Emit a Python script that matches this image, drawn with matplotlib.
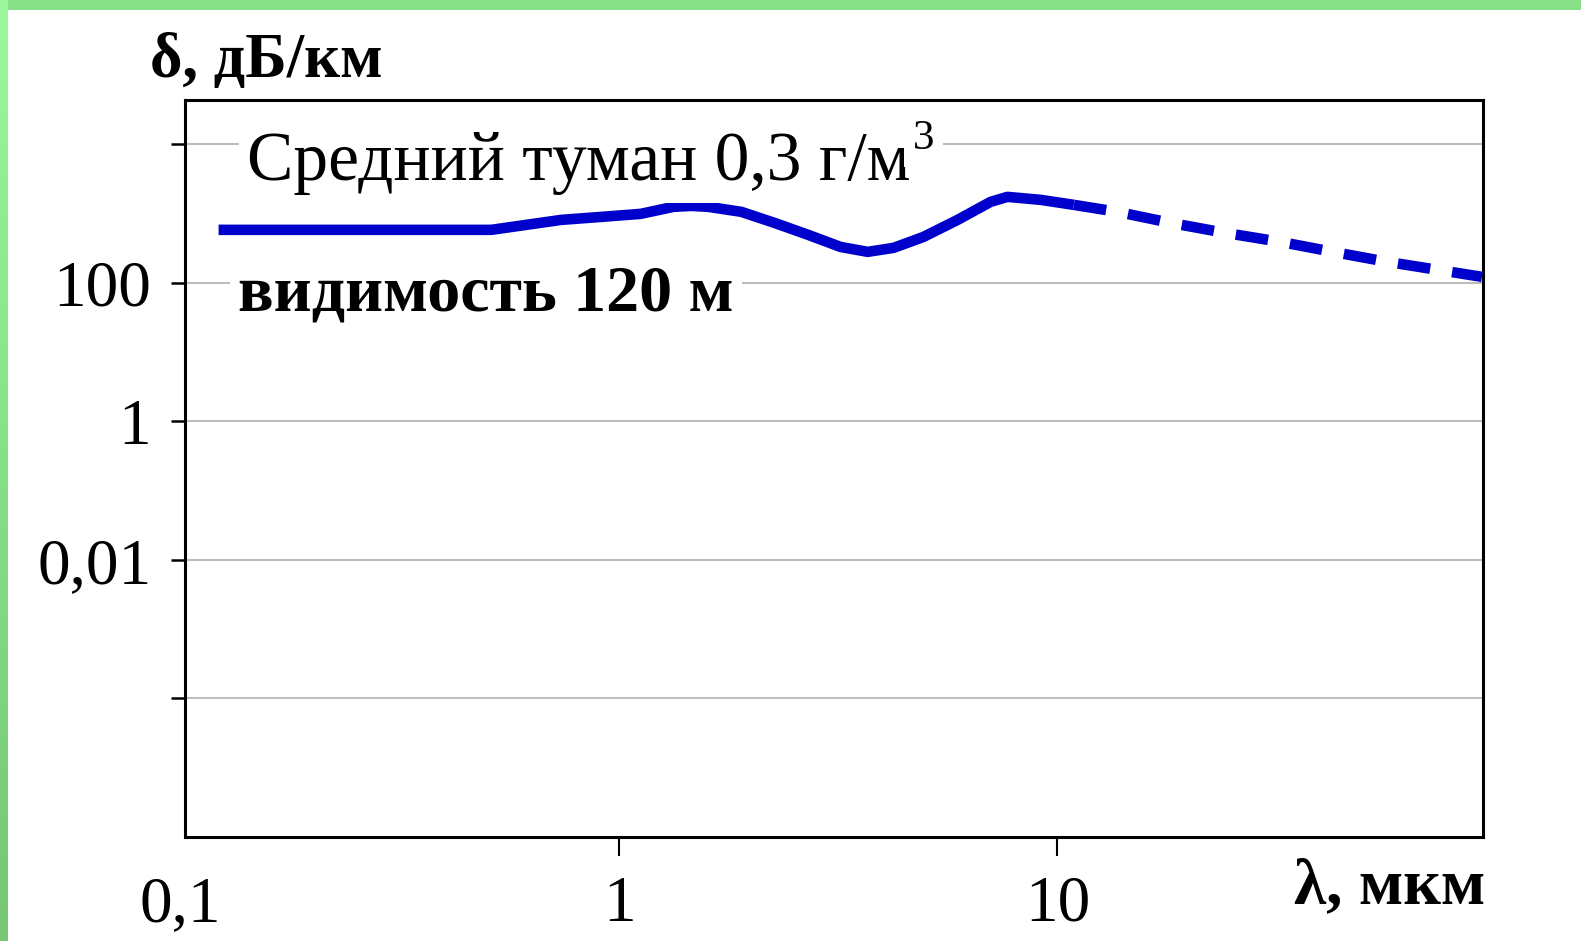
import matplotlib
matplotlib.use('Agg')
import matplotlib.pyplot as plt
import numpy as np
from matplotlib.colors import LinearSegmentedColormap

plt.rcParams['font.family'] = ['Liberation Serif', 'DejaVu Serif']

# ---- data ----
solid_lambda = [0.122, 0.511, 0.738, 0.910, 1.12, 1.33, 1.46, 1.60, 1.90, 2.26, 2.70,
                3.20, 3.69, 4.23, 4.95, 5.92, 7.04, 7.69, 9.15, 10.9]
solid_delta = [582, 582, 811, 895, 990, 1250, 1290, 1250, 1059, 735, 493,
               330, 280, 320, 461, 811, 1476, 1742, 1578, 1336]
dashed_lambda = [10.9, 13.7, 18.1, 24.1, 32.2, 42.5, 56.5, 93.0]
dashed_delta = [1336, 1059, 735, 527, 391, 280, 201, 122]

x_ticks = [0.1, 1, 10]
x_tick_labels = ['0,1', '1', '10']
y_ticks = [1e4, 1e2, 1, 1e-2, 1e-4]
y_tick_labels = ['', '100', '1', '0,01', '']

W, H = 1581, 941
fig = plt.figure(figsize=(W / 100, H / 100), dpi=100)
fig.patch.set_facecolor('white')

def fx(px):
    return px / W

def fy(py):
    return 1 - py / H

# green frame: top band and left gradient band
top_ax = fig.add_axes([0, fy(10), 1, 10 / H])
top_ax.set_axis_off()
top_ax.add_patch(plt.Rectangle((0, 0), 1, 1, color='#88e088', transform=top_ax.transAxes))
left_ax = fig.add_axes([0, 0, 8 / W, 1])
left_ax.set_axis_off()
cmap = LinearSegmentedColormap.from_list('g', ['#9cf89c', '#86e086', '#76c676'])
left_ax.imshow(np.linspace(0, 1, 256).reshape(-1, 1), aspect='auto', cmap=cmap,
               extent=[0, 1, 0, 1], origin='upper')
left_ax.set_xlim(0, 1)
left_ax.set_ylim(0, 1)

ax_h_px = 837 - 100
ax = fig.add_axes([fx(184.5), fy(837), (1483 - 184.5) / W, ax_h_px / H])
ax.set_xscale('log')
ax.set_yscale('log')
ax.set_xlim(0.102, 93.5)
ax.set_ylim(1e-6, 4.36e4)

ax.plot(solid_lambda, solid_delta, color='#0000cc', lw=7.6, solid_capstyle='butt',
        solid_joinstyle='round', zorder=4)
ax.plot(dashed_lambda, dashed_delta, color='#0000cc', lw=7.6, linestyle=(0, (3.1, 2.1)),
        dash_capstyle='butt', zorder=4)

xt_len, xt_pad, tick_fs = 13.5, 14, 47
ax.set_xticks(x_ticks[1:])
ax.set_xticklabels(x_tick_labels[1:])
# the first x label sits at the left corner of the frame (no tick mark there)
off = -(xt_len + xt_pad) * 100 / 72 / ax_h_px
ax.text(x_ticks[0], off, x_tick_labels[0], transform=ax.get_xaxis_transform(),
        fontsize=tick_fs, ha='center', va='top', clip_on=False)
ax.set_yticks(y_ticks)
ax.set_yticklabels(y_tick_labels)
ax.minorticks_off()
ax.tick_params(axis='x', direction='out', length=xt_len, width=1.5, pad=xt_pad,
               labelsize=tick_fs, colors='black')
ax.tick_params(axis='y', direction='out', length=10, width=1.8, pad=14,
               labelsize=tick_fs, colors='black')
ax.yaxis.grid(True, color='#bdbdbd', lw=1.5)
ax.xaxis.grid(False)
ax.set_axisbelow(True)
for s in ax.spines.values():
    s.set_linewidth(2.2)
    s.set_color('black')

fig.text(fx(150), fy(77), 'δ, дБ/км', fontsize=45, fontweight='bold',
         ha='left', va='baseline')
fig.text(fx(1294), fy(903), 'λ, мкм', fontsize=47, fontweight='bold',
         ha='left', va='baseline')

t1 = fig.text(fx(247), fy(180), 'Средний туман 0,3 г/м', fontsize=50,
              ha='left', va='baseline', zorder=5,
              bbox=dict(boxstyle='square,pad=0.12', fc='white', ec='none'))
fig.canvas.draw()
bb = t1.get_window_extent()
fig.text(fx(bb.x1 + 2), fy(149), '3', fontsize=31, ha='left', va='baseline', zorder=6,
         bbox=dict(boxstyle='square,pad=0.2', fc='white', ec='none'))
fig.text(fx(238), fy(310), 'видимость 120 м', fontsize=47.5, fontweight='bold',
         ha='left', va='baseline', zorder=5,
         bbox=dict(boxstyle='square,pad=0.12', fc='white', ec='none'))

fig.savefig('out.png', dpi=100, facecolor='white')
